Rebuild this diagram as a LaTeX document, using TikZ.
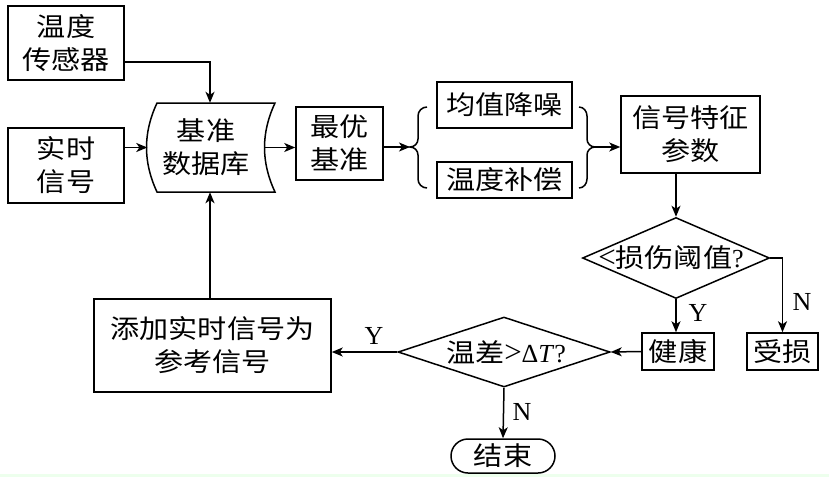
\documentclass[tikz,border=0pt]{standalone}
\usepackage{fontspec}
\setmainfont{Liberation Serif}
\newfontfamily\cjk[FakeStretch=1.12]{Noto Sans CJK SC}
\usetikzlibrary{arrows.meta,shapes.geometric}
\newcommand{\bigrel}[1]{{\rmfamily\fontsize{31}{33}\selectfont #1}}
\begin{document}
\begin{tikzpicture}[x=1pt,y=-1pt,
  every node/.style={font={\cjk\fontsize{26}{33}\selectfont}, align=center, inner sep=0pt},
  box/.style={draw, line width=1.5pt},
  dia/.style={draw, diamond, line width=1.5pt, inner sep=0pt},
  arr/.style={line width=1.5pt, -{Stealth[length=11pt,width=9pt,inset=3pt]}},
  ln/.style={line width=1.5pt},
  lbl/.style={font={\rmfamily\fontsize{26}{30}\selectfont}}]
\useasboundingbox (0,0) rectangle (829,477);
\fill[green!7] (0,474) rectangle (829,477);
% nodes
\node[box, minimum width=116pt, minimum height=74pt] (sensor) at (66,43) {温度\\传感器};
\node[box, minimum width=116pt, minimum height=75pt] (real) at (66,165.5) {实时\\信号};
\node[minimum width=117pt, minimum height=89pt] (db) at (206,147.5) {基准\\数据库};
\draw[ln] (157,103) .. controls (143,133) and (143,162) .. (157,192) -- (275,192)
          .. controls (261,162) and (261,133) .. (275,103) -- cycle;
\node[box, minimum width=87pt, minimum height=73pt] (best) at (339.5,143.5) {最优\\基准};
\node[box, minimum width=135pt, minimum height=46pt] (noise) at (504.5,105) {均值降噪};
\node[box, minimum width=135pt, minimum height=36pt] (comp) at (504.5,180) {温度补偿};
\node[box, minimum width=139pt, minimum height=77pt] (feat) at (690.5,134.5) {信号特征\\参数};
\node[dia, minimum width=187pt, minimum height=81pt] (d1) at (676,258) {};
\node (d1t) at (671,258) {\bigrel{<}损伤阈值\textrm{?}};
\node[box, minimum width=72pt, minimum height=37pt] (health) at (678,351.5) {健康};
\node[box, minimum width=71pt, minimum height=37pt] (hurt) at (782.5,351.5) {受损};
\node[dia, minimum width=212pt, minimum height=70pt] (d2) at (504,352) {};
\node (d2t) at (506,352) {温差\bigrel{>}\textrm{Δ\textit{T}?}};
\node[box, minimum width=237pt, minimum height=93pt] (add) at (212.5,345.5) {添加实时信号为\\参考信号};
\node[box, rounded corners=17pt, minimum width=104pt, minimum height=34pt] (end) at (503,456) {结束};
% braces
\coordinate (lb) at (410,147);
\coordinate (rb) at (595,147);
\draw[ln] (427,107) to[out=180,in=90] (418,116) -- (418,139) to[out=-90,in=0] (lb)
          to[out=0,in=90] (418,155) -- (418,179) to[out=-90,in=180] (427,188);
\draw[ln] (579,107) to[out=0,in=90] (587,116) -- (587,139) to[out=-90,in=180] (rb)
          to[out=180,in=90] (587,155) -- (587,179) to[out=-90,in=0] (579,188);
% connectors
\coordinate (dbn) at ([xshift=4pt]db.north);
\coordinate (dbs) at ([xshift=4pt]db.south);
\draw[arr] ([yshift=-19pt]sensor.east) -| (dbn);
\draw[arr] (real.east |- db.west) -- (db.west);
\draw[arr] (db.east) -- (db.east -| best.west);
\draw[arr] (best.east |- lb) -- (lb);
\draw[arr] (rb) -- (rb -| feat.west);
\draw[arr] (feat.south -| d1.north) -- (d1.north);
\draw[arr] (d1.east) -| (hurt.north);
\draw[arr] (d1.south) -- (d1.south |- health.north);
\draw[arr] (health.west) -- (d2.east);
\draw[arr] (d2.west) -- (d2.west -| add.east);
\draw[arr] (d2.south) -- (end.north);
\draw[arr] (add.north -| dbs) -- (dbs);
% labels
\node[lbl] (n1) at (802,302) {N};
\node[lbl] (y1) at (698,313) {Y};
\node[lbl] (y2) at (374,336) {Y};
\node[lbl] (n2) at (522,412) {N};
\end{tikzpicture}
\end{document}
